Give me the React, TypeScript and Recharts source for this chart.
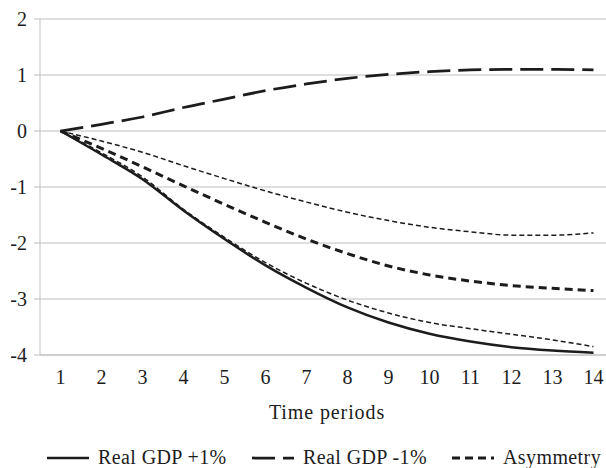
import React from 'react';
import { LineChart, Line, XAxis, YAxis, CartesianGrid, Legend, Label } from 'recharts';

const periods = [1, 2, 3, 4, 5, 6, 7, 8, 9, 10, 11, 12, 13, 14];
const gdpPlus = [0, -0.42, -0.86, -1.42, -1.93, -2.4, -2.8, -3.15, -3.42, -3.62, -3.76, -3.86, -3.92, -3.96];
const gdpMinus = [0, 0.12, 0.25, 0.42, 0.57, 0.72, 0.84, 0.94, 1.01, 1.06, 1.09, 1.1, 1.1, 1.09];
const asymmetry = [0, -0.31, -0.64, -0.98, -1.31, -1.63, -1.93, -2.19, -2.41, -2.57, -2.68, -2.76, -2.81, -2.85];
const bandUpper = [0, -0.18, -0.38, -0.62, -0.85, -1.07, -1.27, -1.45, -1.6, -1.72, -1.8, -1.86, -1.86, -1.82];
const bandLower = [0, -0.39, -0.82, -1.4, -1.9, -2.35, -2.72, -3.02, -3.25, -3.42, -3.53, -3.63, -3.73, -3.85];
const yTicks = [-4, -3, -2, -1, 0, 1, 2];
const boundaryTicks = [0.5, 1.5, 2.5, 3.5, 4.5, 5.5, 6.5, 7.5, 8.5, 9.5, 10.5, 11.5, 12.5, 13.5, 14.5];
const legendNames = ['Real GDP +1%', 'Real GDP -1%', 'Asymmetry'];

const data = periods.map((p, i) => ({
  period: p,
  plus: gdpPlus[i],
  minus: gdpMinus[i],
  asym: asymmetry[i],
  upper: bandUpper[i],
  lower: bandLower[i],
}));

const INK = '#1c1c1c';
const GRID = '#bfbfbf';
const FONT = '"Liberation Serif", serif';
const FS = 20;

const legendStyles = [
  { dash: undefined, width: 2.5, itemWidth: 205 },
  { dash: '23 8', width: 2.75, itemWidth: 200 },
  { dash: '8 5', width: 3, itemWidth: 200 },
];

const LegendContent = () => (
  <div
    style={{
      height: 30,
      boxSizing: 'border-box',
      paddingTop: 8,
      paddingLeft: 47,
      display: 'flex',
      alignItems: 'center',
      fontFamily: FONT,
      fontSize: FS,
      lineHeight: '22px',
      color: INK,
      whiteSpace: 'nowrap',
    }}
  >
    {legendNames.map((name, i) => (
      <div key={name} style={{ display: 'flex', alignItems: 'center', width: legendStyles[i].itemWidth, flex: 'none' }}>
        <svg width={42} height={22} style={{ display: 'block', flex: 'none' }}>
          <line x1={0} x2={42} y1={12} y2={12} stroke={INK} strokeWidth={legendStyles[i].width} strokeDasharray={legendStyles[i].dash} />
        </svg>
        <span style={{ marginLeft: 9, letterSpacing: 0.4 }}>{name}</span>
      </div>
    ))}
  </div>
);

const EmptyTick = () => <g />;

const tickStyle = { fontFamily: FONT, fontSize: FS, fill: INK };

export default function App() {
  return (
    <div style={{ position: 'absolute', left: 0, top: 0, width: 606, height: 468, overflow: 'hidden', background: '#fff', fontFamily: FONT }}>
      <LineChart
        width={654}
        height={468}
        data={data}
        margin={{ top: 19, right: 40, bottom: 0, left: 0 }}
        style={{ fontFamily: FONT }}
      >
        <CartesianGrid vertical={false} stroke={GRID} strokeWidth={1} />
        <XAxis
          xAxisId="bounds"
          type="number"
          dataKey="period"
          domain={[0.5, 14.5]}
          allowDataOverflow
          ticks={boundaryTicks}
          tick={EmptyTick}
          tickLine={{ stroke: GRID }}
          tickSize={6}
          axisLine={false}
          height={0}
        />
        <XAxis
          xAxisId={0}
          type="number"
          dataKey="period"
          domain={[0.5, 14.5]}
          allowDataOverflow
          ticks={periods}
          interval={0}
          tickLine={false}
          tickSize={6}
          tickMargin={9}
          axisLine={{ stroke: GRID }}
          tick={tickStyle}
          height={83}
        >
          <Label value="Time periods" position="insideBottom" offset={19} fontFamily={FONT} fontSize={FS} fill={INK} letterSpacing={0.9} />
        </XAxis>
        <YAxis
          type="number"
          domain={[-4, 2]}
          ticks={yTicks}
          interval={0}
          width={40}
          tickSize={6}
          tickMargin={7}
          axisLine={{ stroke: GRID }}
          tickLine={{ stroke: GRID }}
          tick={tickStyle}
        />
        <Legend verticalAlign="bottom" align="left" content={LegendContent} />
        <Line type="monotone" dataKey="upper" stroke={INK} strokeWidth={1.5} strokeDasharray="5 3" dot={false} legendType="none" isAnimationActive={false} />
        <Line type="monotone" dataKey="asym" name={legendNames[2]} stroke={INK} strokeWidth={3} strokeDasharray="8 5" dot={false} isAnimationActive={false} />
        <Line type="monotone" dataKey="minus" name={legendNames[1]} stroke={INK} strokeWidth={2.75} strokeDasharray="23 8" dot={false} isAnimationActive={false} />
        <Line type="monotone" dataKey="plus" name={legendNames[0]} stroke={INK} strokeWidth={2.5} dot={false} isAnimationActive={false} />
        <Line type="monotone" dataKey="lower" stroke={INK} strokeWidth={1.5} strokeDasharray="5 3" dot={false} legendType="none" isAnimationActive={false} />
      </LineChart>
    </div>
  );
}
